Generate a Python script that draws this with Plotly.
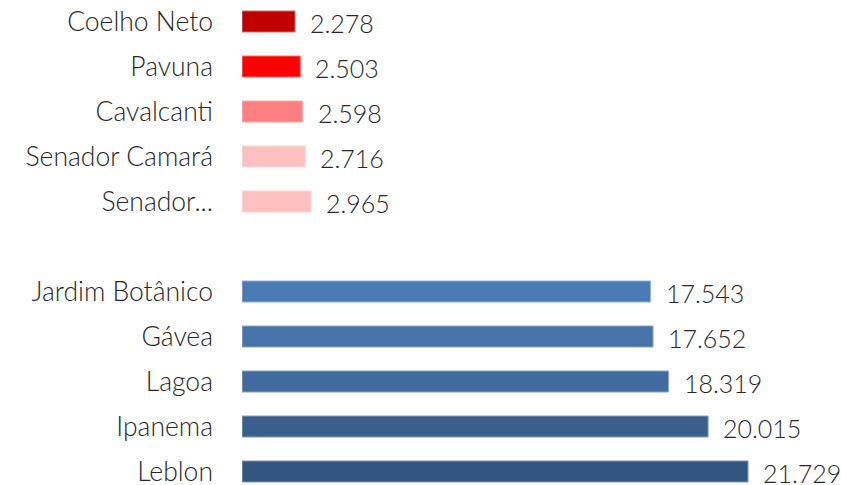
import plotly.graph_objects as go

categories = ["Coelho Neto", "Pavuna", "Cavalcanti", "Senador Camará", "Senador...",
              "", "Jardim Botânico", "Gávea", "Lagoa", "Ipanema", "Leblon"]
values = [2.278, 2.503, 2.598, 2.716, 2.965, None, 17.543, 17.652, 18.319, 20.015, 21.729]
value_labels = ["2.278", "2.503", "2.598", "2.716", "2.965", "", "17.543", "17.652", "18.319", "20.015", "21.729"]
colors = ["#C00000", "#FF0000", "#FF8080", "#FFC0C0", "#FFC0C0", "#FFFFFF",
          "#4A7AB3", "#4674A8", "#416B9E", "#3B5F8D", "#335680"]
line_colors = ["#D88080", "#FF8080", "#FFB0B0", "#FFDADA", "#FFDADA", "#FFFFFF",
               "#9DB6D6", "#9AB2D0", "#97ADCB", "#93A8C3", "#8EA2BC"]

FONT = "Lato"
rows = list(range(len(categories)))
fig = go.Figure()
fig.add_trace(go.Bar(
    x=[v if v is not None else 0 for v in values], y=rows, orientation="h",
    width=0.47,
    marker=dict(color=colors, line=dict(color=line_colors, width=1)),
    hoverinfo="skip",
))

for r, v, t in zip(rows, values, value_labels):
    if v is None:
        continue
    fig.add_annotation(x=v, y=r, text=t, xanchor="left", yanchor="middle",
                       xshift=13, yshift=-1, showarrow=False,
                       font=dict(family=FONT, size=25, color="#262626", weight=300))

fig.update_layout(
    width=841, height=485,
    margin=dict(l=242, r=0, t=0, b=0, autoexpand=False),
    paper_bgcolor="white", plot_bgcolor="white",
    showlegend=False,
    xaxis=dict(range=[0, 25.72], visible=False, automargin=False),
    yaxis=dict(range=[10.3, -0.478], tickvals=rows, ticktext=categories,
               showgrid=False, zeroline=False, showline=False, automargin=False,
               ticks="", ticklabelstandoff=28, ticklabeloverflow="allow",
               tickfont=dict(family=FONT, size=26.5, color="#262626", weight=300)),
)
fig.write_html("out.html", config={"displayModeBar": False},
               post_script="document.body.style.margin='0';document.body.style.overflow='hidden';")
